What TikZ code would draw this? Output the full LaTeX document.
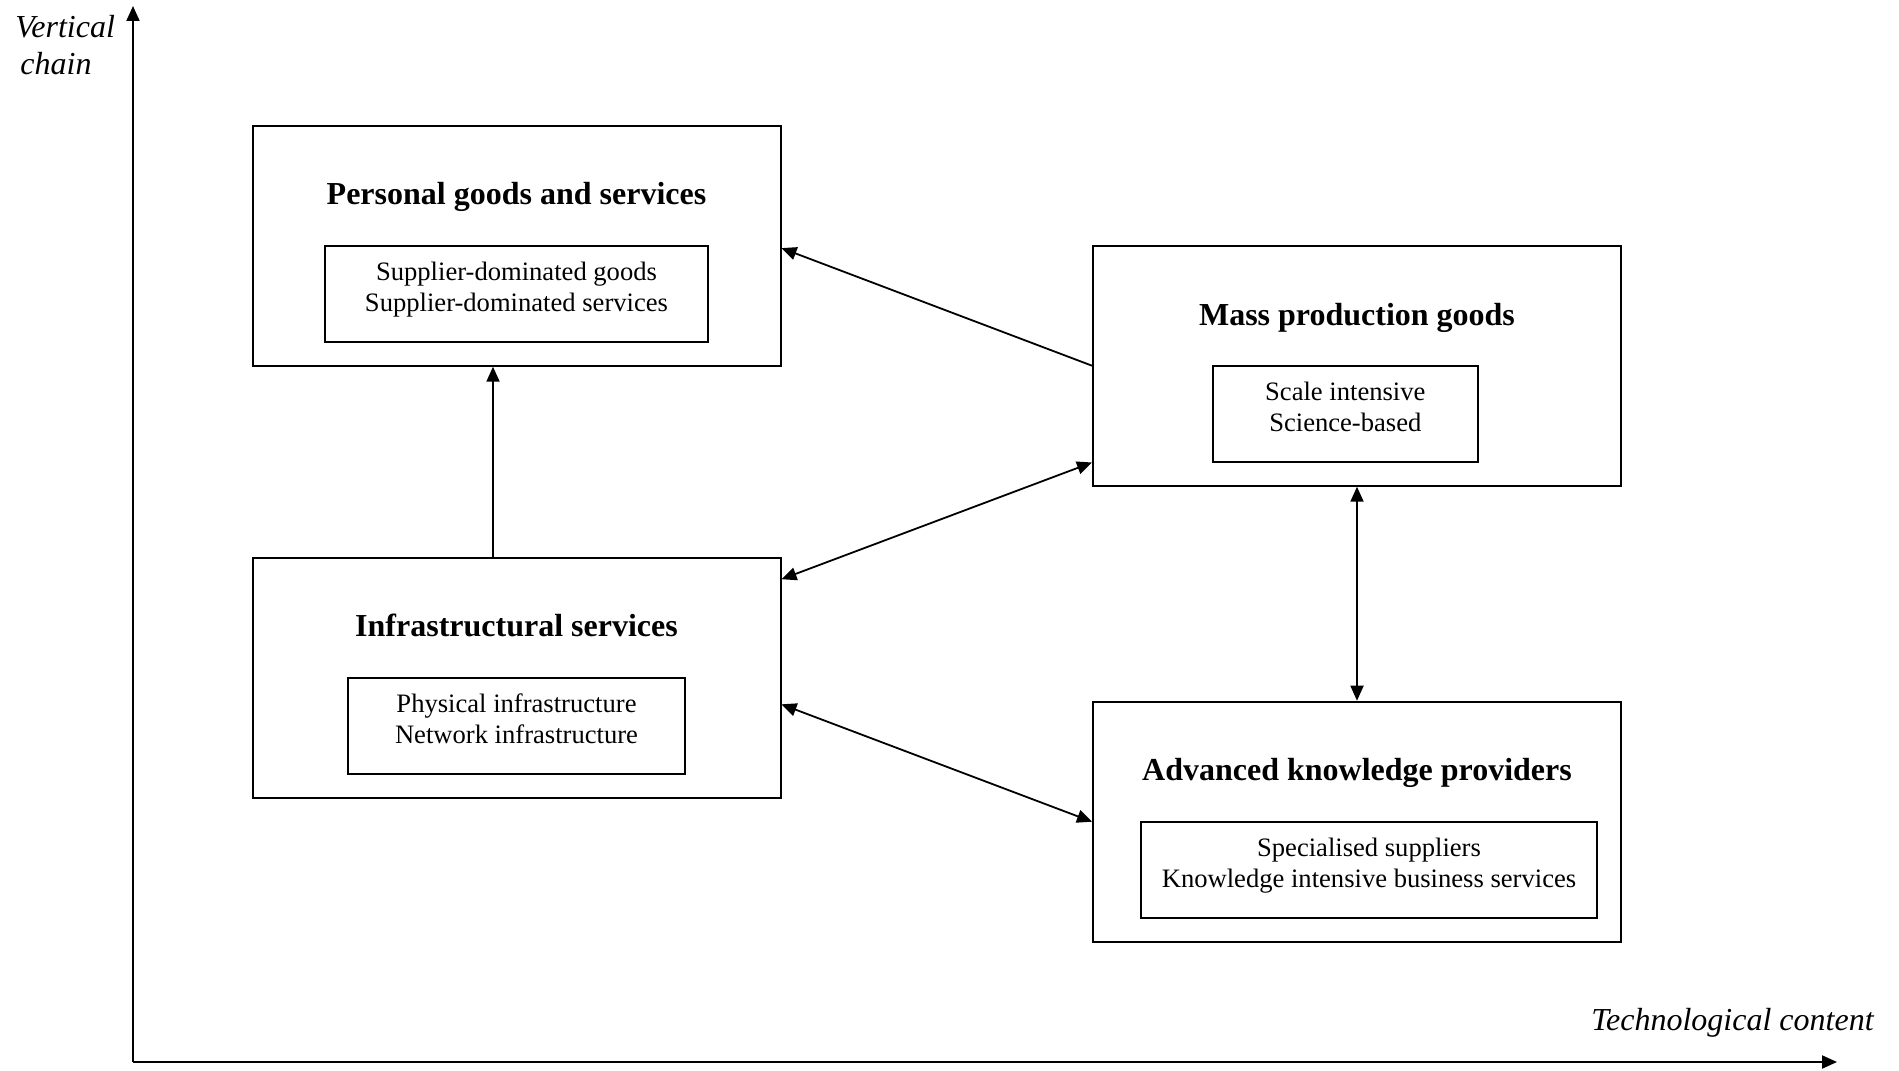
\documentclass[tikz,border=0pt]{standalone}
\usepackage{fontspec}
\setmainfont{Liberation Serif}
\usetikzlibrary{arrows.meta,calc}
\newcommand{\dpfix}{\rule[-7pt]{0pt}{7pt}}
\begin{document}
\begin{tikzpicture}[x=0.5pt,y=-0.5pt,
  outerbox/.style={draw,line width=1pt,minimum width=264pt,minimum height=120pt,inner sep=0pt},
  innerbox/.style={draw,line width=1pt,inner sep=0pt,align=center,font=\fontsize{13.3}{15.25}\selectfont},
  title/.style={anchor=base,font=\fontsize{16}{18.4}\selectfont\bfseries,inner sep=0pt},
  axislabel/.style={font=\fontsize{16}{18.5}\selectfont\itshape,inner sep=0pt},
  conn/.style={line width=0.9pt,-{Triangle[length=7.5pt,width=6.5pt]}},
  bconn/.style={line width=0.9pt,{Triangle[length=7.5pt,width=6.5pt]}-{Triangle[length=7.5pt,width=6.5pt]}},
  axis/.style={line width=1pt,-{Triangle[length=7.5pt,width=6.5pt]}}]
\useasboundingbox (0,0) rectangle (1899,1070);

% axes
\coordinate (origin) at (133,1062);
\coordinate (ytip) at (133,6);
\coordinate (xtip) at (1837,1062);
\draw[axis] (origin) -- (ytip);
\draw[axis] (origin) -- (xtip);
\node[axislabel,align=left,anchor=base west] (vlab) at (15,75) {Vertical\\\hspace*{2.5pt}chain};
\node[axislabel,anchor=base east] (hlab) at (1874,1030) {Technological content};

% Personal goods and services
\node[outerbox] (personal) at (516.5,245.7) {};
\node[title] (personalT) at (516.5,204) {Personal goods and services};
\node[innerbox,minimum width=191.5pt,minimum height=48pt] (personalI) at (516.5,293.7)
  {Supplier-dominated goods\\Supplier-dominated services\dpfix};

% Mass production goods
\node[outerbox] (mass) at (1357,365.7) {};
\node[title] (massT) at (1357,325) {Mass production goods};
\node[innerbox,minimum width=132.7pt,minimum height=48pt] (massI) at (1345.3,413.7)
  {Scale intensive\\Science-based\dpfix};

% Infrastructural services
\node[outerbox] (infra) at (516.5,677.7) {};
\node[title] (infraT) at (516.5,636) {Infrastructural services};
\node[innerbox,minimum width=168.5pt,minimum height=48pt] (infraI) at (516.5,725.7)
  {Physical infrastructure\\Network infrastructure\dpfix};

% Advanced knowledge providers
\node[outerbox] (adv) at (1357,821.7) {};
\node[title] (advT) at (1357,780) {Advanced knowledge providers};
\node[innerbox,minimum width=228pt,minimum height=48pt] (advI) at (1369,869.7)
  {Specialised suppliers\\Knowledge intensive business services\dpfix};

% connectors
\draw[conn] (mass.west) -- ($(personal.north east)!0.51!(personal.south east)$);
\draw[bconn] ($(infra.north east)!0.093!(infra.south east)$) -- ($(mass.north west)!0.9!(mass.south west)$);
\draw[bconn] ($(infra.north east)!0.61!(infra.south east)$) -- (adv.west);
\draw[conn] ([xshift=-11.75pt]infra.north) -- ([xshift=-11.75pt]personal.south);
\draw[bconn] (mass.south) -- (adv.north);
\end{tikzpicture}
\end{document}
